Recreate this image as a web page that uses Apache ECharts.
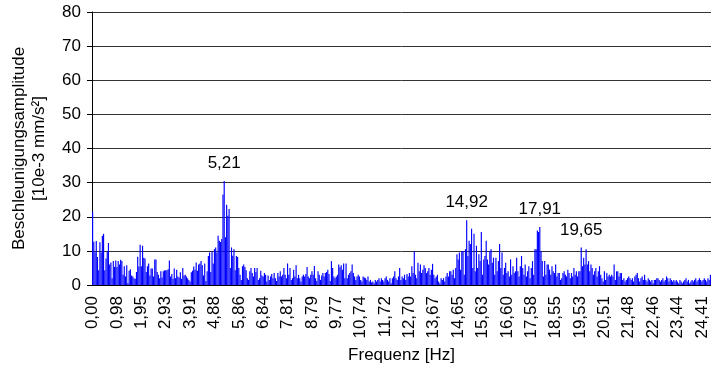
<!DOCTYPE html>
<html>
<head>
<meta charset="utf-8">
<script src="https://cdn.jsdelivr.net/npm/echarts@6/dist/echarts.min.js"></script>
<style>
  html, body { margin: 0; padding: 0; background: #fff; }
  #chart { width: 711px; height: 374px; }
</style>
</head>
<body>
<div id="chart"></div>
<script>
// FFT bin width (50 Hz / 1024), labels every 20 bins
const binWidth = 50 / 1024

// amplitude per bin [10e-3 mm/s²], one row per 20 bins
const amplitude = [
  21.5, 12.7, 9.6, 12.9, 8.2, 4.3, 12.5, 9.5, 14.4, 15.0, 4.3, 7.8, 9.8, 12.3, 6.0, 6.6, 2.0, 7.0, 5.3, 7.2,
  5.3, 7.0, 6.0, 7.4, 7.0, 3.0, 5.5, 2.5, 5.8, 0.6, 4.2, 4.6, 2.8, 2.5, 2.0, 1.8, 3.8, 8.3, 5.4, 11.8,
  5.5, 11.5, 8.0, 7.8, 3.8, 5.5, 6.3, 2.8, 4.8, 4.8, 2.5, 7.5, 7.5, 3.8, 3.0, 2.0, 4.0, 2.2, 4.0, 4.3,
  4.3, 4.3, 4.6, 7.2, 2.5, 3.2, 1.8, 4.8, 2.0, 4.5, 2.5, 2.2, 3.7, 1.8, 5.0, 2.8, 3.0, 2.5, 2.0, 1.5,
  1.0, 3.7, 4.2, 5.4, 4.5, 6.6, 4.2, 6.0, 6.3, 7.0, 5.8, 2.8, 6.3, 1.2, 4.0, 8.5, 9.5, 3.8, 9.8, 6.3,
  10.5, 11.0, 9.5, 14.4, 13.0, 12.6, 13.5, 26.5, 30.5, 14.0, 23.5, 20.3, 22.3, 5.0, 11.0, 8.6, 10.5, 4.3, 8.5, 8.2,
  5.0, 3.0, 1.5, 5.5, 6.0, 5.3, 4.3, 2.0, 1.5, 4.0, 5.0, 3.5, 2.5, 5.0, 3.8, 5.0, 1.5, 2.0, 4.2, 2.8,
  2.5, 3.5, 3.0, 1.0, 2.8, 1.5, 2.5, 3.2, 2.0, 3.5, 2.0, 1.2, 3.5, 2.5, 4.0, 2.5, 3.0, 5.0, 3.0, 2.0,
  6.3, 3.0, 5.0, 1.5, 2.0, 4.5, 2.5, 5.8, 2.0, 3.0, 2.0, 1.0, 2.5, 3.0, 2.5, 3.2, 5.3, 2.5, 2.0, 3.0,
  4.0, 3.0, 5.6, 2.0, 1.2, 4.0, 3.0, 1.5, 2.8, 3.5, 2.5, 3.5, 3.8, 4.5, 3.2, 1.2, 7.0, 5.0, 2.5, 2.0,
  2.5, 3.0, 6.0, 5.2, 5.8, 4.5, 6.3, 2.0, 6.3, 2.0, 3.0, 3.5, 4.0, 6.0, 3.5, 2.5, 1.5, 2.5, 3.0, 2.5,
  1.5, 1.0, 2.5, 2.2, 2.0, 1.5, 2.5, 1.0, 1.5, 0.8, 1.0, 0.5, 1.5, 1.0, 1.5, 2.0, 1.0, 2.0, 1.5, 1.0,
  2.0, 2.5, 1.5, 1.0, 2.0, 0.5, 2.0, 2.5, 4.0, 2.0, 1.5, 2.5, 5.0, 1.5, 2.5, 2.0, 3.0, 1.5, 3.2, 2.5,
  3.5, 2.5, 5.5, 3.5, 10.0, 3.0, 2.0, 6.5, 4.0, 6.0, 3.5, 4.5, 5.8, 5.0, 3.5, 4.0, 5.0, 3.0, 4.5, 6.2,
  3.0, 2.0, 2.5, 3.0, 1.0, 0.5, 2.0, 1.5, 2.0, 1.0, 2.5, 3.5, 2.5, 4.0, 4.0, 3.0, 4.5, 2.0, 5.0, 9.0,
  7.5, 9.5, 4.5, 10.0, 10.0, 3.0, 10.5, 19.0, 8.5, 13.0, 12.0, 16.5, 5.0, 15.0, 4.0, 11.5, 5.0, 9.0, 7.0, 15.5,
  3.0, 7.5, 8.5, 13.0, 7.5, 6.0, 10.0, 10.5, 6.5, 8.0, 3.0, 8.0, 4.0, 7.0, 12.0, 5.0, 9.5, 3.0, 5.0, 6.5,
  3.5, 4.0, 2.5, 7.5, 3.0, 5.5, 3.5, 4.0, 8.0, 4.0, 2.5, 5.5, 8.5, 5.0, 3.0, 6.0, 2.5, 4.0, 5.5, 2.0,
  5.0, 7.0, 3.0, 10.5, 10.5, 16.0, 15.5, 17.0, 10.0, 7.0, 2.5, 7.0, 3.0, 6.0, 6.0, 4.5, 3.0, 5.5, 4.0, 3.5,
  6.0, 2.5, 3.5, 3.5, 1.5, 2.0, 3.5, 4.0, 3.0, 2.5, 4.5, 3.5, 2.0, 3.5, 2.5, 5.0, 3.0, 4.0, 2.5, 4.0,
  4.0, 11.0, 5.5, 8.0, 6.0, 10.5, 6.0, 7.0, 4.0, 6.0, 5.0, 3.0, 4.0, 5.0, 2.5, 4.0, 5.5, 3.0, 2.0, 1.0,
  4.0, 1.5, 3.5, 2.5, 3.0, 2.5, 3.0, 2.5, 6.0, 1.5, 4.0, 4.0, 2.5, 3.5, 3.5, 1.5, 2.0, 1.0, 1.5, 2.0,
  2.5, 2.0, 1.5, 2.0, 1.0, 2.5, 3.0, 3.5, 2.0, 1.0, 2.0, 2.5, 1.5, 3.0, 1.5, 1.0, 2.0, 1.5, 1.0, 1.5,
  0.5, 1.5, 1.5, 2.0, 2.0, 1.5, 1.0, 1.5, 2.0, 1.0, 1.5, 2.5, 2.0, 1.0, 2.0, 1.5, 1.0, 1.5, 1.0, 1.5,
  1.0, 0.5, 1.5, 1.0, 0.5, 1.0, 1.5, 2.0, 1.0, 1.5, 0.5, 1.0, 1.5, 1.0, 1.5, 2.0, 1.0, 1.5, 2.0, 1.5,
  1.0, 1.5, 2.0, 1.5, 1.0, 2.0, 1.5, 3.0,
]

// annotated peaks
const peakIndex = [108, 307, 367, 401]
const peakText = ['5,21', '14,92', '17,91', '19,65']

const categories = amplitude.map((_, i) =>
  (Math.round(i * binWidth * 100) / 100).toFixed(2).replace('.', ','))

const fontFamily = '"Liberation Sans", Arial, sans-serif'

const seriesData = amplitude.map((v, i) => {
  const p = peakIndex.indexOf(i)
  if (p < 0) return v
  return {
    value: v,
    label: {
      show: true,
      position: 'top',
      distance: 9,
      formatter: peakText[p],
      color: '#000',
      fontSize: 17,
      fontFamily,
    },
  }
})

const chart = echarts.init(document.getElementById('chart'))

chart.setOption({
  animation: false,
  textStyle: { fontFamily },
  grid: { left: 92, right: 0, top: 12, bottom: 89 },
  xAxis: {
    type: 'category',
    data: categories,
    name: 'Frequenz [Hz]',
    nameLocation: 'middle',
    nameGap: 58,
    nameTextStyle: { color: '#000', fontSize: 17, fontFamily },
    axisLine: { lineStyle: { color: '#000', width: 1 } },
    axisTick: {
      interval: 19,
      alignWithLabel: true,
      length: 5,
      lineStyle: { color: '#000' },
    },
    axisLabel: {
      interval: 19,
      rotate: 90,
      margin: 11,
      color: '#000',
      fontSize: 17,
      fontFamily,
    },
    splitLine: { show: false },
  },
  yAxis: {
    type: 'value',
    min: 0,
    max: 80,
    interval: 10,
    name: 'Beschleunigungsamplitude\n[10e-3 mm/s²]',
    nameLocation: 'middle',
    nameRotate: 90,
    nameGap: 43,
    nameTextStyle: { color: '#000', fontSize: 17, lineHeight: 20, fontFamily },
    axisLine: { show: true, lineStyle: { color: '#000', width: 1 } },
    axisTick: { show: true, length: 5, lineStyle: { color: '#000' } },
    axisLabel: { margin: 11, color: '#000', fontSize: 17, fontFamily },
    splitLine: { lineStyle: { color: '#333', width: 1 } },
  },
  series: [
    {
      type: 'bar',
      data: seriesData,
      barCategoryGap: '5%',
      itemStyle: { color: '#0000ff' },
      emphasis: { disabled: true },
    },
  ],
})
</script>
</body>
</html>
